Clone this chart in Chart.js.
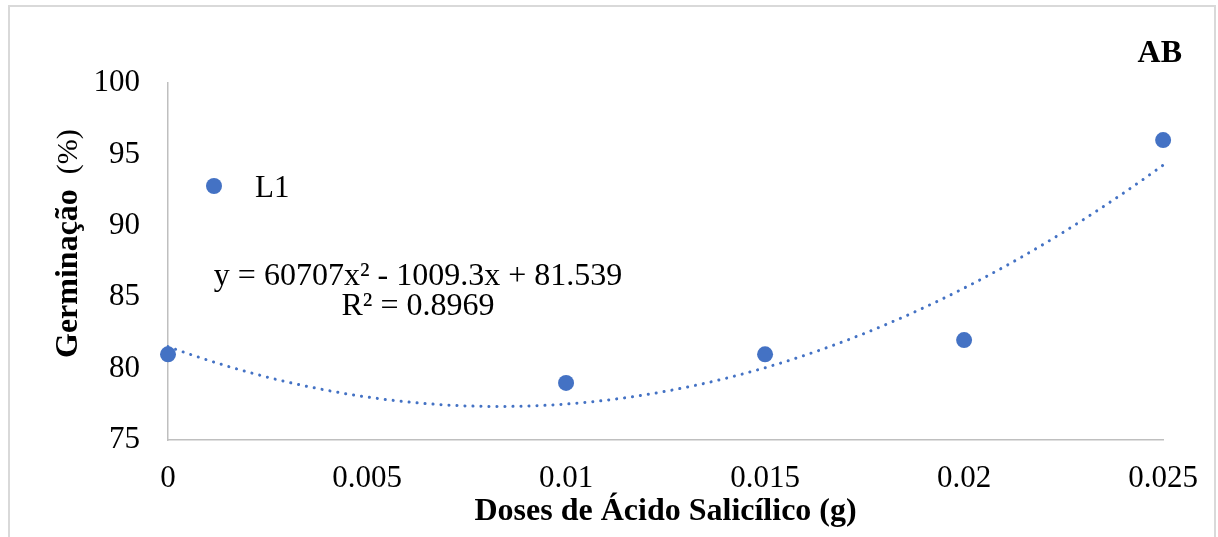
<!DOCTYPE html>
<html>
<head>
<meta charset="utf-8">
<script src="https://cdn.jsdelivr.net/npm/chart.js@4/dist/chart.umd.min.js"></script>
<style>
    html, body { margin: 0; padding: 0; background: #fff; }
    #wrap { width: 1218px; height: 537px; }
</style>
</head>
<body>
<div id="wrap"><canvas id="mycanvas" width="1218" height="537"></canvas></div>
<script>
// data
const doses = [0, 0.01, 0.015, 0.02, 0.025];
const germinacao = [81, 79, 81, 82, 96];
const xTicks = [0, 0.005, 0.01, 0.015, 0.02, 0.025];
const xTickLabels = ['0', '0.005', '0.01', '0.015', '0.02', '0.025'];
const yTicks = [75, 80, 85, 90, 95, 100];
// trendline coefficients from the equation shown (a x^2 + b x + c)
const trendCoef = [60707, -1009.3, 81.539];
const trendLabels = ['y = 60707x² - 1009.3x + 81.539', 'R² = 0.8969'];
const seriesName = 'L1';
const panelLabel = 'AB';
const yTitle = ['Germinação', '  (%)'];

const blue = '#4472C4';
const serif = "'Liberation Serif', 'Times New Roman', serif";

// sample the fitted polynomial along the x range for the dotted trendline
var trend = [];
for (var i = 0; i <= 50; i++) {
    var x = xTicks[xTicks.length - 1] * i / 50;
    trend.push({ x: x, y: trendCoef[0] * x * x + trendCoef[1] * x + trendCoef[2] });
}

const extras = {
    id: 'extras',
    beforeDraw: function (chart) {
        var ctx = chart.ctx;
        ctx.save();
        ctx.fillStyle = '#fff';
        ctx.fillRect(0, 0, chart.width, chart.height);
        ctx.strokeStyle = '#d9d9d9';
        ctx.lineWidth = 2;
        ctx.strokeRect(9, 6, 1206, 600);
        ctx.restore();
    },
    afterDraw: function (chart) {
        var ctx = chart.ctx;
        ctx.save();
        // legend
        ctx.fillStyle = chart.data.datasets[0].backgroundColor;
        ctx.beginPath();
        ctx.arc(214, 186, 8, 0, Math.PI * 2);
        ctx.fill();
        ctx.fillStyle = '#000';
        ctx.font = '31px ' + serif;
        ctx.textAlign = 'left';
        ctx.textBaseline = 'alphabetic';
        ctx.fillText(chart.data.datasets[0].label, 255, 197);
        // trendline equation
        ctx.font = '32px ' + serif;
        ctx.textAlign = 'center';
        ctx.fillText(trendLabels[0], 418, 285);
        ctx.fillText(trendLabels[1], 418, 315);
        // panel label
        ctx.font = 'bold 32px ' + serif;
        ctx.textAlign = 'right';
        ctx.fillText(panelLabel, 1182, 62);
        // y axis title: bold word, regular unit
        ctx.translate(77, 358);
        ctx.rotate(-Math.PI / 2);
        ctx.textAlign = 'left';
        ctx.font = 'bold 32px ' + serif;
        ctx.fillText(yTitle[0], 0, 0);
        var w = ctx.measureText(yTitle[0]).width;
        ctx.font = '30px ' + serif;
        ctx.fillText(yTitle[1], w, 0);
        ctx.restore();
    }
};

var ctx = document.getElementById('mycanvas');
var chart = new Chart(ctx, {
    type: 'scatter',
    data: {
        datasets: [{
            label: seriesName,
            data: doses.map(function (d, i) { return { x: d, y: germinacao[i] }; }),
            backgroundColor: blue,
            borderWidth: 0,
            pointRadius: 8,
            pointHoverRadius: 8,
            clip: false,
            order: 1
        }, {
            label: 'trend',
            type: 'line',
            data: trend,
            borderColor: blue,
            borderWidth: 3,
            borderDash: [0.1, 7.9],
            borderCapStyle: 'round',
            pointRadius: 0,
            tension: 0,
            fill: false,
            clip: false,
            order: 2
        }]
    },
    options: {
        responsive: false,
        animation: false,
        events: [],
        layout: { padding: { top: 83, right: 53, left: 0, bottom: 0 } },
        plugins: { legend: { display: false }, tooltip: { enabled: false } },
        scales: {
            x: {
                type: 'linear',
                min: 0,
                max: 0.025,
                afterBuildTicks: function (scale) {
                    scale.ticks = xTicks.map(function (v) { return { value: v }; });
                },
                afterFit: function (scale) { scale.height = 97; },
                grid: { display: false, drawTicks: false },
                border: { display: true, color: '#bfbfbf', width: 1.5 },
                ticks: {
                    color: '#000',
                    padding: 20,
                    maxRotation: 0,
                    font: { family: serif, size: 31 },
                    callback: function (v, i) { return xTickLabels[i]; }
                },
                title: {
                    display: true,
                    text: 'Doses de Ácido Salicílico (g)',
                    color: '#000',
                    padding: { top: 0, bottom: 6 },
                    font: { family: serif, size: 32, weight: 'bold' }
                }
            },
            y: {
                min: 75,
                max: 100,
                afterBuildTicks: function (scale) {
                    scale.ticks = yTicks.map(function (v) { return { value: v }; });
                },
                afterFit: function (scale) { scale.width = 168; },
                grid: { display: false, drawTicks: false },
                border: { display: true, color: '#bfbfbf', width: 1.5 },
                ticks: {
                    color: '#000',
                    padding: 28,
                    font: { family: serif, size: 31 }
                },
                title: { display: false }
            }
        }
    },
    plugins: [extras]
});
</script>
</body>
</html>
